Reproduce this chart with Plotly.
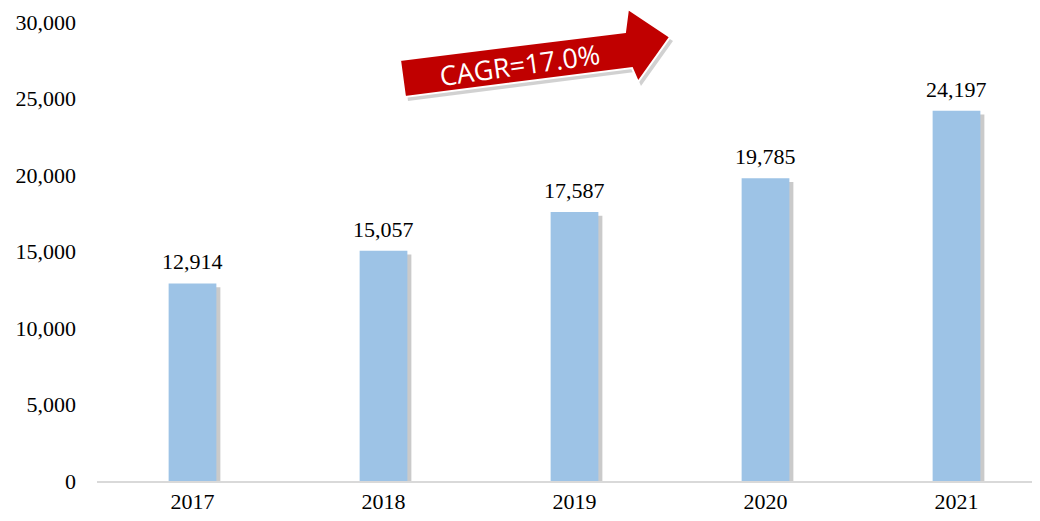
import plotly.graph_objects as go

years = ["2017", "2018", "2019", "2020", "2021"]
values = [12914, 15057, 17587, 19785, 24197]
y_ticks = [0, 5000, 10000, 15000, 20000, 25000, 30000]
cagr_label = "CAGR=17.0%"

OFF = 8  # default page body margin
W, H = 1040 - OFF, 521 - OFF
L = 97 - OFF
T = 22 - OFF
B = H - (481 - OFF)
R = 0
pw, ph = W - L - R, H - T - B

def px2paper(x, y):
    x, y = x - OFF, y - OFF
    return (x - L) / pw, (H - B - y) / ph

fig = go.Figure()

# shadow bars
fig.add_trace(go.Bar(
    x=list(range(len(years))), y=values, base=-250,
    width=0.25, offset=-0.125 + 4 / 191,
    marker=dict(color="rgba(90,90,90,0.32)", line=dict(width=0)),
    hoverinfo="skip", showlegend=False))
fig.add_trace(go.Bar(
    x=list(range(len(years))), y=values,
    width=0.25, offset=-0.125,
    marker=dict(color="#9DC3E6", line=dict(width=0)),
    showlegend=False))

for i, v in enumerate(values):
    fig.add_annotation(x=i, y=v, text=f"{v:,}", showarrow=False,
                       yanchor="bottom", yshift=7,
                       font=dict(family="Liberation Serif", size=22, color="#000000"))

# arrow (decoration)
arrow_px = [(400, 60), (625, 32), (628, 9), (670, 37), (638, 82), (632, 68), (405, 97)]

def path_from(pts, dx=0, dy=0):
    p = [px2paper(x + dx, y + dy) for x, y in pts]
    return "M " + " L ".join(f"{a:.5f},{b:.5f}" for a, b in p) + " Z"

fig.add_shape(type="path", xref="paper", yref="paper", path=path_from(arrow_px, 3, 4),
              fillcolor="rgba(0,0,0,0.18)", line=dict(width=0), layer="above")
fig.add_shape(type="path", xref="paper", yref="paper", path=path_from(arrow_px),
              fillcolor="#C00000", line=dict(color="white", width=2), layer="above")
x0, y0 = px2paper(431, 79)
x1, y1 = px2paper(609, 54)
fig.add_shape(type="line", xref="paper", yref="paper", x0=x0, y0=y0, x1=x1, y1=y1,
              line=dict(width=0, color="rgba(0,0,0,0)"), layer="above",
              label=dict(text=cagr_label, textangle=-8, textposition="middle",
                         yanchor="middle", padding=0,
                         font=dict(family="Open Sans", size=27, color="white")))

fig.update_layout(
    width=W, height=H, margin=dict(l=L, r=R, t=T, b=B, autoexpand=False),
    paper_bgcolor="white", plot_bgcolor="rgba(0,0,0,0)", barmode="overlay",
    xaxis=dict(range=[-0.5, -0.5 + pw / 191], tickmode="array",
               tickvals=list(range(len(years))), ticktext=years,
               showgrid=False, zeroline=False, showline=True,
               linecolor="#D9D9D9", linewidth=2, ticks="",
               tickfont=dict(family="Liberation Serif", size=22, color="#000000")),
    yaxis=dict(range=[0, 30000], tickvals=y_ticks, tickformat=",",
               showgrid=False, zeroline=False, showline=False, ticks="",
               ticklabelstandoff=20,
               tickfont=dict(family="Liberation Serif", size=22, color="#000000")),
)

fig.write_html("out.html")
